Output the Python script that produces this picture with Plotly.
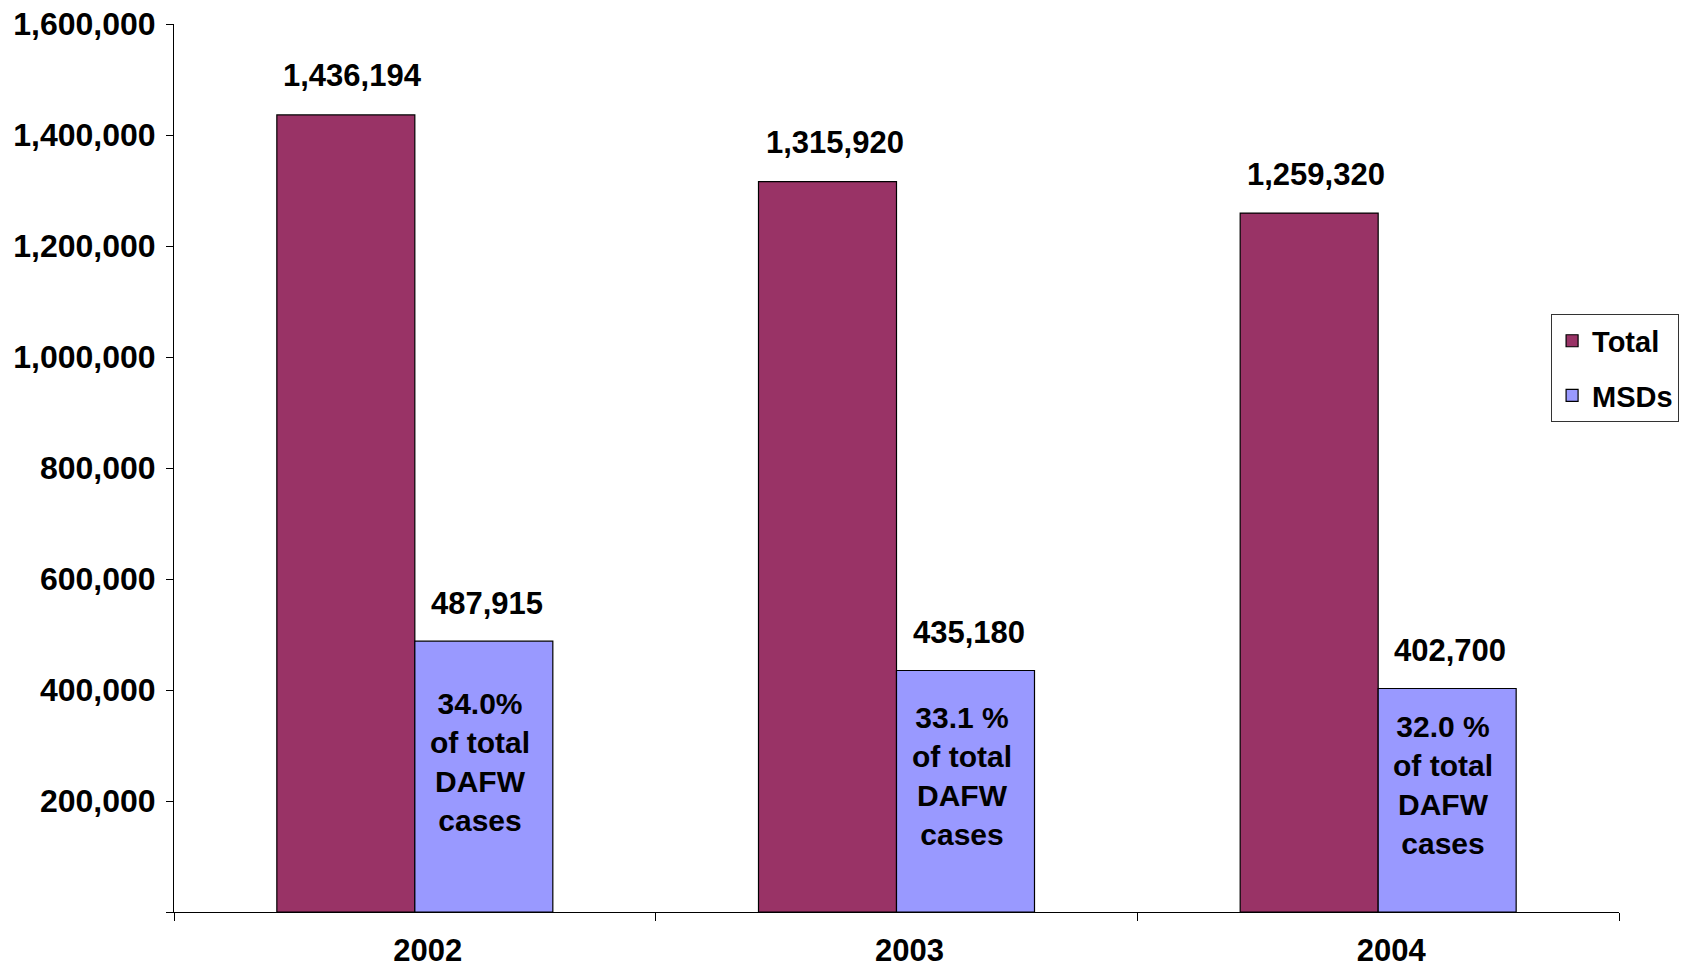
import plotly.graph_objects as go

years = ["2002", "2003", "2004"]
total_cases = [1436194, 1315920, 1259320]
msd_cases = [487915, 435180, 402700]
pct_labels = ["34.0%", "33.1 %", "32.0 %"]
y_ticks = [0, 200000, 400000, 600000, 800000, 1000000, 1200000, 1400000, 1600000]
y_ticktext = ["", "200,000", "400,000", "600,000", "800,000", "1,000,000", "1,200,000", "1,400,000", "1,600,000"]

FONT = "Liberation Sans, Arial, sans-serif"
FS = 31

fig = go.Figure()
fig.add_trace(go.Bar(name="Total", x=years, y=total_cases, legendgroup="a",
                     marker=dict(color="#993366", line=dict(color="#000000", width=1.2))))
fig.add_trace(go.Bar(name="MSDs", x=years, y=msd_cases, legendgroup="b",
                     marker=dict(color="#9999FF", line=dict(color="#000000", width=1.2))))

annotations = []
bar_px = 69
for i, yr in enumerate(years):
    annotations.append(dict(x=i, y=total_cases[i], xref="x", yref="y",
                            text=f"<b>{total_cases[i]:,}</b>", showarrow=False,
                            xshift=-bar_px + 7, yshift=39, yanchor="middle",
                            font=dict(family=FONT, size=FS, color="#000000")))
    annotations.append(dict(x=i, y=msd_cases[i], xref="x", yref="y",
                            text=f"<b>{msd_cases[i]:,}</b>", showarrow=False,
                            xshift=bar_px + 3, yshift=38, yanchor="middle",
                            font=dict(family=FONT, size=FS, color="#000000")))
    annotations.append(dict(x=i, y=msd_cases[i] / 2, xref="x", yref="y",
                            text=f"<b>{pct_labels[i]}<br>of total<br>DAFW<br>cases</b>",
                            showarrow=False, xshift=bar_px - 4, yshift=15,
                            yanchor="middle", align="center",
                            font=dict(family=FONT, size=30, color="#000000")))

fig.update_layout(
    width=1679, height=959,
    margin=dict(l=166, r=68, t=16, b=55, autoexpand=False),
    paper_bgcolor="white", plot_bgcolor="white",
    barmode="group", bargap=0.427, bargroupgap=0,
    font=dict(family=FONT, size=FS, color="#000000"),
    annotations=annotations,
    legend=dict(x=0.953, y=0.673, xanchor="left", yanchor="top",
                bordercolor="#333333", borderwidth=1, bgcolor="white",
                font=dict(family=FONT, size=29, color="#000000", weight="bold"),
                tracegroupgap=14),
    xaxis=dict(type="category", tickson="boundaries", ticks="outside", ticklen=8,
               tickcolor="#000000", showline=True, linecolor="#000000", linewidth=1,
               showgrid=False, range=[-0.5, 2.5], automargin=False,
               tickfont=dict(family=FONT, size=FS, color="#000000", weight="bold"),
               ticklabelstandoff=11, ticklabelshift=13, ticklabeloverflow="allow"),
    yaxis=dict(range=[0, 1600000], tickvals=y_ticks, ticktext=y_ticktext,
               ticks="outside", ticklen=7, tickcolor="#000000",
               showline=True, linecolor="#000000", linewidth=1,
               showgrid=False, zeroline=False, automargin=False,
               tickfont=dict(family=FONT, size=32, color="#000000", weight="bold"),
               ticklabelstandoff=4, ticklabeloverflow="allow"),
)

fig.write_html("out.html")
